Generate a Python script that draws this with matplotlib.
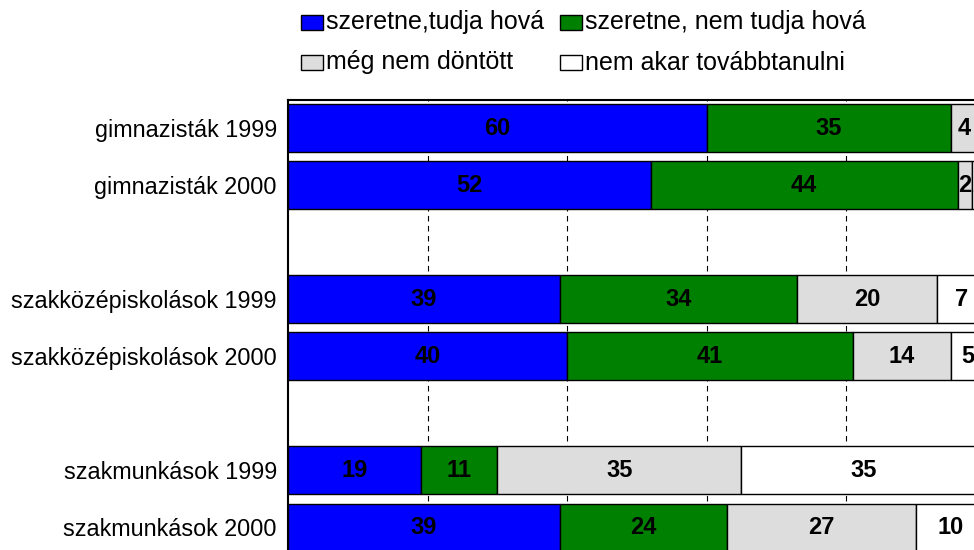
import matplotlib.pyplot as plt
from matplotlib.patches import Rectangle

plt.rcParams["font.family"] = ["Liberation Sans", "DejaVu Sans"]

# rows from top to bottom; empty strings are the spacer rows
categories = [
    "gimnazisták 1999",
    "gimnazisták 2000",
    "",
    "szakközépiskolások 1999",
    "szakközépiskolások 2000",
    "",
    "szakmunkások 1999",
    "szakmunkások 2000",
]
tudja_hova = [60, 52, None, 39, 40, None, 19, 39]
nem_tudja_hova = [35, 44, None, 34, 41, None, 11, 24]
nem_dontott = [4, 2, None, 20, 14, None, 35, 27]
nem_akar = [1, 2, None, 7, 5, None, 35, 10]

series_names = [
    "szeretne,tudja hová",
    "szeretne, nem tudja hová",
    "még nem döntött",
    "nem akar továbbtanulni",
]
series_values = [tudja_hova, nem_tudja_hova, nem_dontott, nem_akar]
colors = ["#0000ff", "#008000", "#dddddd", "#ffffff"]

fig = plt.figure(figsize=(9.74, 5.5), dpi=100)
# plot area runs past the right and bottom edges, like the cropped original
ax = fig.add_axes([288 / 974, 1 - 556 / 550, 697.5 / 974, 456.5 / 550])

for i, cat in enumerate(categories):
    if tudja_hova[i] is None:
        continue
    left = 0
    for vals, color in zip(series_values, colors):
        v = vals[i]
        ax.barh(i, v, left=left, height=0.84, color=color,
                edgecolor="black", linewidth=1, zorder=3)
        ax.text(left + v / 2, i, str(v), ha="center", va="center",
                fontsize=17, fontweight="bold", zorder=4, clip_on=False)
        left += v

ax.set_xlim(0, 100)
ax.set_ylim(len(categories) - 0.5, -0.5)
ax.set_xticks([20, 40, 60, 80])
ax.tick_params(axis="x", length=0, labelbottom=False)
ax.grid(axis="x", color="black", linestyle=(0, (5, 4)), linewidth=0.8, zorder=0)
ax.set_yticks(range(len(categories)))
ax.set_yticklabels(categories, fontsize=16.8)
ax.tick_params(axis="y", length=0, pad=8)
for sp in ax.spines.values():
    sp.set_linewidth(1.5)

# legend, two rows drawn by hand
legend_pos = [(301, 22.5), (560, 22.5), (301, 62.5), (560, 62.5)]
for name, color, (x, y) in zip(series_names, colors, legend_pos):
    fig.patches.append(Rectangle((x / 974, 1 - (y + 7.5) / 550), 22 / 974, 15 / 550,
                                 transform=fig.transFigure, facecolor=color,
                                 edgecolor="black", linewidth=1))
    fig.text((x + 25) / 974, 1 - y / 550, name, fontsize=18,
             ha="left", va="center")

fig.savefig("out.png", dpi=100)
